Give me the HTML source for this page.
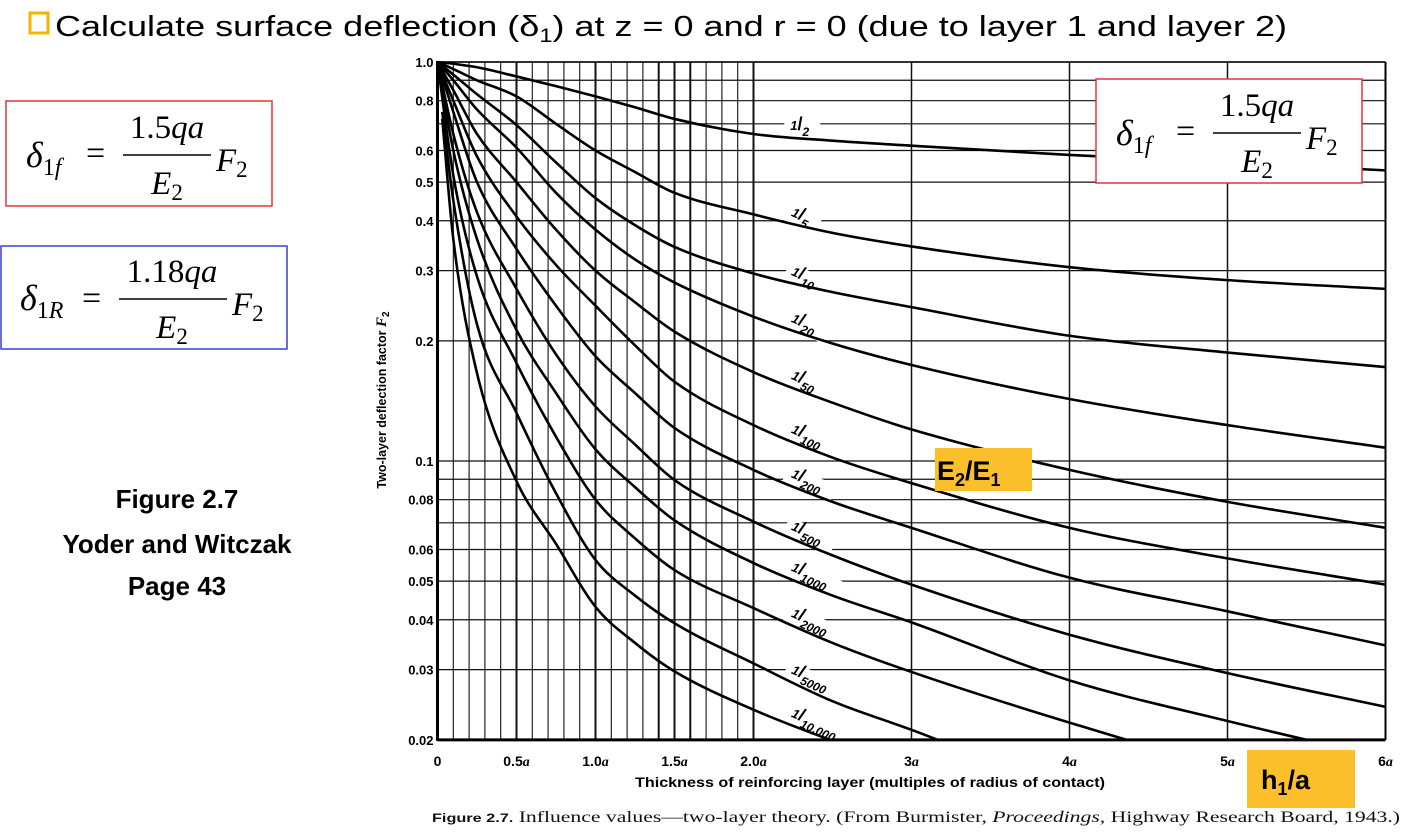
<!DOCTYPE html>
<html><head><meta charset="utf-8"><style>
html,body{margin:0;padding:0;background:#fff;overflow:hidden;width:1414px;height:840px;}
svg{display:block;}
</style></head><body>
<svg id="chart" width="1414" height="840" viewBox="0 0 1414 840" xmlns="http://www.w3.org/2000/svg">
  <rect x="0" y="0" width="1414" height="840" fill="#fff"/>
  <rect x="30" y="13" width="18" height="20" fill="#fff" stroke="#f5b400" stroke-width="3"/>
  <text x="55" y="36" font-family="Liberation Sans, sans-serif" font-size="29" textLength="1232" lengthAdjust="spacingAndGlyphs" fill="#000">Calculate surface deflection (δ<tspan font-size="19" dy="6">1</tspan><tspan dy="-6">) at z = 0 and r = 0 (due to layer 1 and layer 2)</tspan></text>

  <g font-family="Liberation Serif, serif" font-style="italic">
    <rect x="6" y="101" width="266" height="105" fill="none" stroke="#e8333a" stroke-width="1.5"/>
    <text x="26" y="167" font-size="36">δ<tspan font-size="24" dy="8" font-style="normal">1</tspan><tspan font-size="24">f</tspan></text>
    <text x="86" y="164" font-size="34" font-style="normal">=</text>
    <text x="167" y="138" font-size="33" text-anchor="middle"><tspan font-style="normal">1.5</tspan>qa</text>
    <line x1="123" y1="155" x2="211" y2="155" stroke="#000" stroke-width="1.5"/>
    <text x="167" y="194" font-size="33" text-anchor="middle">E<tspan font-size="23" dy="6" font-style="normal">2</tspan></text>
    <text x="216" y="171" font-size="33">F<tspan font-size="23" dy="6" font-style="normal">2</tspan></text>
  </g>
  <g font-family="Liberation Serif, serif" font-style="italic">
    <rect x="1" y="246" width="286" height="103" fill="none" stroke="#3a3fcf" stroke-width="1.5"/>
    <text x="20" y="310" font-size="36">δ<tspan font-size="24" dy="8" font-style="normal">1</tspan><tspan font-size="24">R</tspan></text>
    <text x="82" y="309" font-size="34" font-style="normal">=</text>
    <text x="172" y="282" font-size="33" text-anchor="middle"><tspan font-style="normal">1.18</tspan>qa</text>
    <line x1="119" y1="299" x2="227" y2="299" stroke="#000" stroke-width="1.5"/>
    <text x="172" y="338" font-size="33" text-anchor="middle">E<tspan font-size="23" dy="6" font-style="normal">2</tspan></text>
    <text x="232" y="315" font-size="33">F<tspan font-size="23" dy="6" font-style="normal">2</tspan></text>
  </g>
  <g font-family="Liberation Sans, sans-serif" font-weight="bold" font-size="26" text-anchor="middle">
    <text x="177" y="508">Figure 2.7</text>
    <text x="177" y="553">Yoder and Witczak</text>
    <text x="177" y="595">Page 43</text>
  </g>

  <g id="grid"></g>
  <g id="labels"></g>
  <g id="curves"></g>
  <g id="axes"></g>

  <g font-family="Liberation Serif, serif" font-style="italic">
    <rect x="1096" y="79" width="266" height="104" fill="#fff" stroke="#e8333a" stroke-width="1.5"/>
    <text x="1116" y="145" font-size="36">δ<tspan font-size="24" dy="8" font-style="normal">1</tspan><tspan font-size="24">f</tspan></text>
    <text x="1176" y="142" font-size="34" font-style="normal">=</text>
    <text x="1257" y="116" font-size="33" text-anchor="middle"><tspan font-style="normal">1.5</tspan>qa</text>
    <line x1="1213" y1="133" x2="1301" y2="133" stroke="#000" stroke-width="1.5"/>
    <text x="1257" y="172" font-size="33" text-anchor="middle">E<tspan font-size="23" dy="6" font-style="normal">2</tspan></text>
    <text x="1306" y="149" font-size="33">F<tspan font-size="23" dy="6" font-style="normal">2</tspan></text>
  </g>
  <g>
    <rect x="935" y="448" width="97" height="43" fill="#fbbf2c"/>
    <text x="937" y="480" font-family="Liberation Sans, sans-serif" font-weight="bold" font-size="27">E<tspan font-size="18" dy="6">2</tspan><tspan dy="-6">/E</tspan><tspan font-size="18" dy="6">1</tspan></text>
  </g>
  <g>
    <rect x="1247" y="750" width="108" height="58" fill="#fbbf2c"/>
    <text x="1261" y="789" font-family="Liberation Sans, sans-serif" font-weight="bold" font-size="27">h<tspan font-size="18" dy="6">1</tspan><tspan dy="-6">/a</tspan></text>
  </g>
  <text x="432" y="822" font-family="Liberation Serif, serif" font-size="16" fill="#111" textLength="968" lengthAdjust="spacingAndGlyphs"><tspan font-family="Liberation Sans, sans-serif" font-weight="bold" font-size="12">Figure  2.7.</tspan>   Influence values—two-layer theory. (From Burmister, <tspan font-style="italic">Proceedings,</tspan> Highway Research Board, 1943.)</text>
</svg>
<script>
const hValues = [0, 0.1, 0.25, 0.5, 0.75, 1, 1.25, 1.5, 2, 2.5, 3, 4, 5, 6];
const curveNames = ["1/2","1/5","1/10","1/20","1/50","1/100","1/200","1/500","1/1000","1/2000","1/5000","1/10,000"];
const f_half  = [1, .99, .97, .92, .87, .82, .77, .72, .66, .635, .617, .585, .56, .535];
const f_5     = [1, .96, .90, .82, .70, .60, .53, .47, .415, .373, .345, .306, .284, .27];
const f_10    = [1, .93, .83, .695, .56, .456, .39, .344, .295, .265, .243, .206, .187, .172];
const f_20    = [1, .90, .76, .61, .47, .38, .32, .28, .23, .197, .174, .143, .123, .108];
const f_50    = [1, .85, .66, .50, .38, .30, .25, .211, .167, .14, .120, .095, .079, .068];
const f_100   = [1, .80, .58, .41, .31, .245, .195, .158, .123, .102, .088, .068, .057, .049];
const f_200   = [1, .75, .50, .34, .245, .183, .148, .121, .095, .079, .068, .051, .042, .0345];
const f_500   = [1, .66, .42, .27, .185, .137, .11, .0896, .0705, .058, .049, .0367, .0294, .0242];
const f_1000  = [1, .60, .36, .213, .148, .107, .086, .071, .0555, .046, .0394, .0282, .0223, .018];
const f_2000  = [1, .52, .29, .176, .115, .080, .064, .0533, .0428, .035, .0296, .0221, .017, .014];
const f_5000  = [.75, .45, .22, .132, .083, .0565, .046, .0392, .0311, .025, .0212, .015, .012, .01];
const f_10000 = [.72, .36, .166, .089, .062, .0431, .035, .0297, .0238, .0199, .017, .013, .01, .008];
const seriesValues = [f_half,f_5,f_10,f_20,f_50,f_100,f_200,f_500,f_1000,f_2000,f_5000,f_10000];
const yTickValues = [1.0, 0.8, 0.6, 0.5, 0.4, 0.3, 0.2, 0.1, 0.08, 0.06, 0.05, 0.04, 0.03, 0.02];
const yTickLabels = ["1.0","0.8","0.6","0.5","0.4","0.3","0.2","0.1","0.08","0.06","0.05","0.04","0.03","0.02"];
const yGridValues = [1,.9,.8,.7,.6,.5,.4,.3,.2,.1,.09,.08,.07,.06,.05,.04,.03,.02];
const xTickValues = [0, 0.5, 1, 1.5, 2, 3, 4, 5, 6];
const xTickLabels = ["0","0.5a","1.0a","1.5a","2.0a","3a","4a","5a","6a"];

const NS = "http://www.w3.org/2000/svg";
const X0 = 437.5, XPA = 158.0, Y0 = 62, YPD = 399;
function xs(h){ return X0 + h*XPA; }
function ys(f){ return Y0 - Math.log10(f)*YPD; }
function mk(tag, attrs, parent){ const e=document.createElementNS(NS,tag); for(const k in attrs) e.setAttribute(k,attrs[k]); parent.appendChild(e); return e; }

const grid = document.getElementById('grid');
for (let i=0;i<=20;i++){
  const h=i/10;
  const bold = (i%5===0)||i===16||i===14;
  const l = mk('line',{x1:xs(h),y1:ys(1),x2:xs(h),y2:ys(0.02),stroke:'#111','stroke-width':bold?2:1.1},grid);
  
  
}
[3,4,5,6].forEach(h=>{
  const l = mk('line',{x1:xs(h),y1:ys(1),x2:xs(h),y2:ys(0.02),stroke:'#111','stroke-width':1.5},grid);
  
  
});
yGridValues.forEach(v=>{
  const l = mk('line',{x1:xs(0),y1:ys(v),x2:xs(6),y2:ys(v),stroke:'#111','stroke-width':1.2},grid);
  
  
});

const labels = document.getElementById('labels');
const labelH = 2.22;
function interp(arr, h){
  for(let i=0;i<hValues.length-1;i++){
    if(h>=hValues[i]&&h<=hValues[i+1]){
      const t=(h-hValues[i])/(hValues[i+1]-hValues[i]);
      return Math.exp(Math.log(arr[i])*(1-t)+Math.log(arr[i+1])*t);
    }
  }
  return arr[arr.length-1];
}
curveNames.forEach((name,k)=>{
  const parts = name.split('/');
  const cx = xs(labelH)+2, cy = ys(interp(seriesValues[k],labelH)) - 6;
  const rot = k===0 ? 0 : 24;
  const g = mk('g',{transform:`translate(${cx},${cy}) rotate(${rot})`},labels);
  
  
  mk('rect',{x:-6,y:-12,width:parts[1].length*8+28,height:18,fill:'#fff'},g);
  const t = mk('text',{x:0,y:2,'font-family':'Liberation Sans, sans-serif','font-weight':'bold','font-style':'italic','font-size':13},g);
  const a = mk('tspan',{dy:-3},t); a.textContent=parts[0];
  const b = mk('tspan',{dy:0,'font-size':18,'font-style':'normal'},t); b.textContent='/';
  const c = mk('tspan',{dy:6,'font-size':12},t); c.textContent=parts[1];
});

const curves = document.getElementById('curves');
mk('clipPath',{id:'plotclip'},curves);
mk('rect',{x:xs(0),y:ys(1)-2,width:xs(6)-xs(0),height:ys(0.02)-ys(1)+2},curves.lastChild);
function monotonePath(px,py){
  const n=px.length, d=[], m=[];
  for(let i=0;i<n-1;i++) d.push((py[i+1]-py[i])/(px[i+1]-px[i]));
  m[0]=d[0]; m[n-1]=d[n-2];
  for(let i=1;i<n-1;i++){ m[i]=(d[i-1]*d[i]<=0)?0:(d[i-1]+d[i])/2; }
  for(let i=0;i<n-1;i++){
    if(d[i]===0){m[i]=0;m[i+1]=0;continue;}
    const a=m[i]/d[i], b=m[i+1]/d[i], s=a*a+b*b;
    if(s>9){const t=3/Math.sqrt(s); m[i]=t*a*d[i]; m[i+1]=t*b*d[i];}
  }
  let p=`M${px[0]},${py[0]}`;
  for(let i=0;i<n-1;i++){
    const hh=px[i+1]-px[i];
    p+=` C${px[i]+hh/3},${py[i]+m[i]*hh/3} ${px[i+1]-hh/3},${py[i+1]-m[i+1]*hh/3} ${px[i+1]},${py[i+1]}`;
  }
  return p;
}
seriesValues.forEach((vals,k)=>{
  const px = hValues.map(xs), py = vals.map(ys);
  if(k>=10){ px[0]=xs(0.03); }
  const p = mk('path',{d:monotonePath(px,py),fill:'none',stroke:'#000','stroke-width':2.6,'clip-path':'url(#plotclip)'},curves);
  
  
});

const axes = document.getElementById('axes');
mk('line',{x1:xs(0),y1:ys(1)-1,x2:xs(0),y2:ys(0.02)+1,stroke:'#000','stroke-width':3},axes);
mk('line',{x1:xs(0),y1:ys(0.02),x2:xs(6),y2:ys(0.02),stroke:'#000','stroke-width':3},axes);
mk('line',{x1:xs(6),y1:ys(1),x2:xs(6),y2:ys(0.02),stroke:'#000','stroke-width':2},axes);
mk('line',{x1:xs(0),y1:ys(1),x2:xs(6),y2:ys(1),stroke:'#000','stroke-width':1.5},axes);
yTickValues.forEach((v,i)=>{
  const t = mk('text',{x:xs(0)-4,y:ys(v)+5,'text-anchor':'end','font-family':'Liberation Sans, sans-serif','font-weight':'bold','font-size':13},axes);
  t.textContent = yTickLabels[i];
  
  
});
xTickValues.forEach((v,i)=>{
  const t = mk('text',{x:xs(v),y:766,'text-anchor':'middle','font-family':'Liberation Sans, sans-serif','font-weight':'bold','font-size':14},axes);
  const lab = xTickLabels[i];
  if(lab.endsWith('a')){
    const a=mk('tspan',{},t); a.textContent=lab.slice(0,-1);
    const b=mk('tspan',{'font-family':'Liberation Serif, serif','font-style':'italic'},t); b.textContent='a';
  } else t.textContent = lab;
  
  
});
const xt = mk('text',{x:870,y:787,'text-anchor':'middle','font-family':'Liberation Sans, sans-serif','font-weight':'bold','font-size':13.5,textLength:470,lengthAdjust:'spacingAndGlyphs'},axes);
xt.textContent='Thickness of reinforcing layer (multiples of radius of contact)';


const yt = mk('text',{x:0,y:0,transform:'translate(386,400) rotate(-90)','text-anchor':'middle','font-family':'Liberation Sans, sans-serif','font-weight':'bold','font-size':12.5},axes);
yt.textContent='Two-layer deflection factor ';
const fs = mk('tspan',{'font-family':'Liberation Serif, serif','font-style':'italic','font-size':15},yt); fs.textContent='F';
const f2 = mk('tspan',{'font-size':10,dy:3},yt); f2.textContent='2';


</script>
</body></html>
